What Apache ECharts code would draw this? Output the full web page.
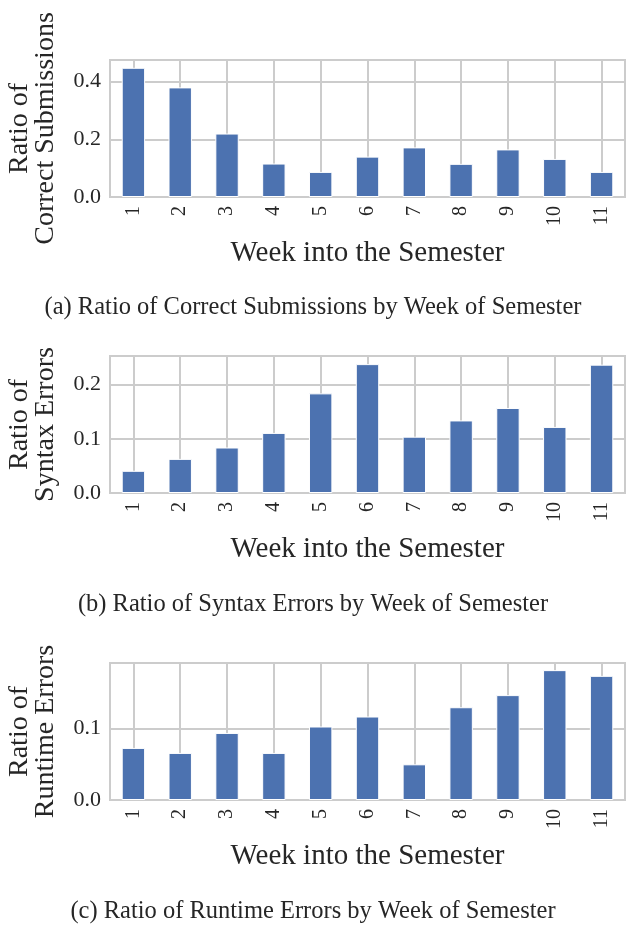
<!DOCTYPE html>
<html>
<head>
<meta charset="utf-8">
<script src="https://cdn.jsdelivr.net/npm/echarts@6/dist/echarts.min.js"></script>
<style>
  html, body { margin: 0; padding: 0; background: #fff; }
  #chart { width: 626px; height: 925px; }
</style>
</head>
<body>
<div id="chart"></div>
<script>
// weeks on the x axis
var weeks = ['1', '2', '3', '4', '5', '6', '7', '8', '9', '10', '11'];

// ratios
var correctRatio = [0.448, 0.380, 0.220, 0.116, 0.087, 0.140, 0.172, 0.115, 0.165, 0.132, 0.087];
var syntaxRatio = [0.041, 0.063, 0.084, 0.111, 0.184, 0.238, 0.104, 0.134, 0.157, 0.122, 0.237];
var runtimeRatio = [0.073, 0.066, 0.094, 0.066, 0.103, 0.117, 0.050, 0.130, 0.147, 0.182, 0.174];

var yNames = ['Ratio of\nCorrect Submissions', 'Ratio of\nSyntax Errors', 'Ratio of\nRuntime Errors'];
var yMax = [0.475, 0.253, 0.192];
var yStep = [0.2, 0.1, 0.1];
var captions = [
  '(a) Ratio of Correct Submissions by Week of Semester',
  '(b) Ratio of Syntax Errors by Week of Semester',
  '(c) Ratio of Runtime Errors by Week of Semester'
];

var serif = 'Liberation Serif';
var gridColor = '#cccccc';
var textColor = '#262626';

// panel placement
var gridTops = [60, 356, 663];
var gridHeight = 137;
var captionY = [308, 605, 912];

var chart = echarts.init(document.getElementById('chart'));

var grids = [], xAxes = [], yAxes = [], series = [], graphics = [];
var allData = [correctRatio, syntaxRatio, runtimeRatio];

for (var i = 0; i < 3; i++) {
  grids.push({
    left: 110, right: 1, top: gridTops[i], height: gridHeight,
    containLabel: false, outerBoundsMode: 'none',
    show: true, borderColor: gridColor, borderWidth: 2
  });
  xAxes.push({
    type: 'category', gridIndex: i, data: weeks,
    name: 'Week into the Semester', nameLocation: 'middle', nameGap: 42,
    nameTextStyle: { fontFamily: serif, fontSize: 29, color: textColor },
    axisLine: { show: true, lineStyle: { color: gridColor, width: 2 } },
    axisTick: { show: false },
    axisLabel: { rotate: 90, margin: 9, fontFamily: serif, fontSize: 20, color: textColor },
    splitLine: { show: true, alignWithLabel: true, lineStyle: { color: gridColor, width: 2 } }
  });
  yAxes.push({
    type: 'value', gridIndex: i, min: 0, max: yMax[i], interval: yStep[i],
    name: yNames[i], nameLocation: 'middle', nameRotate: 90, nameGap: 51,
    nameTextStyle: { fontFamily: serif, fontSize: 28, color: textColor, lineHeight: 26, align: 'center' },
    axisLine: { show: false },
    axisTick: { show: false },
    axisLabel: {
      margin: 9, fontFamily: serif, fontSize: 22, color: textColor, showMaxLabel: false,
      formatter: function (v) { return v.toFixed(1); }
    },
    splitLine: { show: true, lineStyle: { color: gridColor, width: 2 } }
  });
  series.push({
    type: 'bar', xAxisIndex: i, yAxisIndex: i, data: allData[i],
    barWidth: '50%', z: 3,
    itemStyle: { color: '#4c72b0', borderColor: '#ffffff', borderWidth: 1 }
  });
  graphics.push({
    type: 'text', left: 'center', top: captionY[i] - 13,
    style: { text: captions[i], fontFamily: serif, fontSize: 24.5, fill: textColor }
  });
}

chart.setOption({
  animation: false,
  backgroundColor: '#ffffff',
  grid: grids,
  xAxis: xAxes,
  yAxis: yAxes,
  series: series,
  graphic: graphics
});
</script>
</body>
</html>
